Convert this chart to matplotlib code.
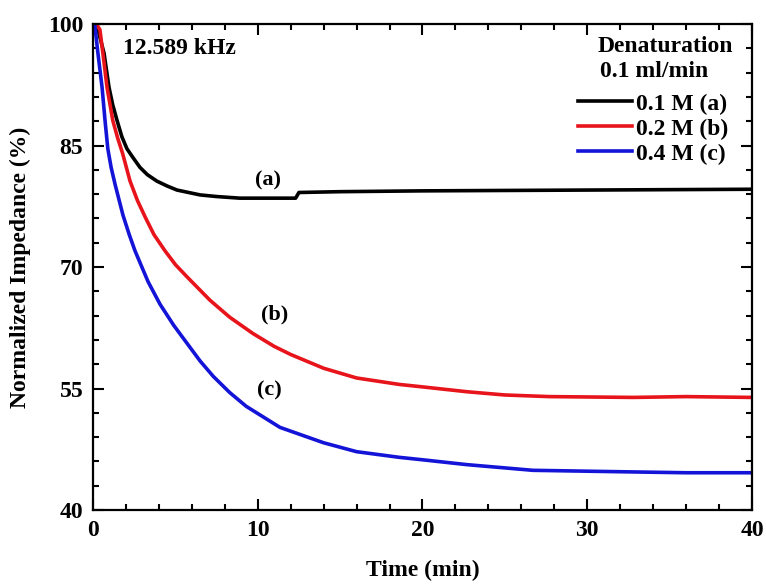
import matplotlib.pyplot as plt
import numpy as np

plt.rcParams['font.family'] = ['Liberation Serif', 'DejaVu Serif']
plt.rcParams['font.weight'] = 'bold'

# ---------- 数据 ----------
t_a = [0.1, 0.3, 0.67, 0.97, 1.2, 1.46, 1.75, 2.06, 2.43, 2.85, 3.3, 3.88, 4.5, 5.1, 6.5, 7.5,
       8.9, 10.5, 12.3, 12.5, 15, 20, 25, 30, 35, 40]
z_a = [100, 99.3, 96.4, 92.2, 90.0, 88.1, 86.1, 84.6, 83.5, 82.3, 81.4, 80.6, 80.0, 79.5, 78.9, 78.7,
       78.5, 78.5, 78.5, 79.2, 79.3, 79.4, 79.45, 79.5, 79.55, 79.6]

t_b = [0.2, 0.42, 0.6, 0.85, 1.2, 1.5, 1.8, 2.25, 2.7, 3.16, 3.7, 4.37, 5.0, 5.7, 7.1, 8.3, 9.7,
       11.0, 12.0, 14.0, 16.0, 18.6, 20.0, 22.7, 25.0, 27.7, 32.8, 36, 40]
z_b = [100, 99.3, 96.4, 92.2, 88.1, 85.9, 84.0, 80.6, 78.2, 76.2, 74.0, 72.0, 70.3, 68.8, 65.9,
       63.8, 61.8, 60.2, 59.2, 57.5, 56.3, 55.5, 55.2, 54.6, 54.2, 54.0, 53.9, 54.0, 53.9]

t_c = [0.1, 0.3, 0.55, 0.73, 0.9, 1.1, 1.34, 1.82, 2.2, 2.55, 3.34, 4.07, 4.9, 5.7, 6.5, 7.3,
       8.3, 9.3, 11.35, 14.0, 16.0, 18.6, 20.0, 22.7, 26.7, 32.8, 36, 40]
z_c = [100, 96.4, 92.2, 88.1, 84.6, 82.3, 80.2, 76.4, 74.0, 72.0, 68.2, 65.4, 62.8, 60.6, 58.4,
       56.5, 54.5, 52.8, 50.2, 48.3, 47.2, 46.5, 46.2, 45.6, 44.9, 44.7, 44.6, 44.6]

labels = ['0.1 M (a)', '0.2 M (b)', '0.4 M (c)']
colors = ['black', '#e8141b', '#1414d8']

# ---------- 绘图 ----------
fig = plt.figure(figsize=(7.66, 5.84), dpi=100)
ax = fig.add_axes([0.1214, 0.1267, 0.8603, 0.8322])

for t, z, lab, c in zip([t_a, t_b, t_c], [z_a, z_b, z_c], labels, colors):
    ax.plot(t, z, color=c, lw=2.6, label=lab, solid_joinstyle='round')

ax.set_xlim(0, 40)
ax.set_ylim(40, 100)
ax.set_xticks(np.arange(0, 41, 10))
ax.set_xticks(np.arange(0, 41, 2), minor=True)
ax.set_yticks(np.arange(40, 101, 15))
ax.set_yticks(np.arange(40, 101, 3), minor=True)
ax.tick_params(which='both', direction='in', top=True, right=True, width=1.5,
               labelsize=17, pad=7)
ax.tick_params(which='major', length=8)
ax.tick_params(which='minor', length=4)
for s in ax.spines.values():
    s.set_linewidth(1.6)

ax.set_xlabel('Time (min)', fontsize=17, fontweight='bold', labelpad=14)
ax.set_ylabel('Normalized Impedance (%)', fontsize=17, fontweight='bold', labelpad=12)

ax.text(1.8, 97, '12.589 kHz', fontsize=17, fontweight='bold', va='center')
ax.text(10.6, 80.7, '(a)', fontsize=16, fontweight='bold', ha='center', va='center')
ax.text(11.0, 64.1, '(b)', fontsize=16, fontweight='bold', ha='center', va='center')
ax.text(10.7, 54.8, '(c)', fontsize=16, fontweight='bold', ha='center', va='center')

# 图例标题
ax.text(34.75, 97.2, 'Denaturation', fontsize=17, fontweight='bold', ha='center', va='center')
ax.text(34.05, 94.1, '0.1 ml/min', fontsize=17, fontweight='bold', ha='center', va='center')

ax.legend(loc='upper right', bbox_to_anchor=(0.964, 0.858), frameon=False,
          prop={'size': 17, 'weight': 'bold'}, handlelength=2.3,
          handletextpad=0.15, labelspacing=0.15, borderaxespad=0, borderpad=0)

fig.savefig('out.png', dpi=100)
